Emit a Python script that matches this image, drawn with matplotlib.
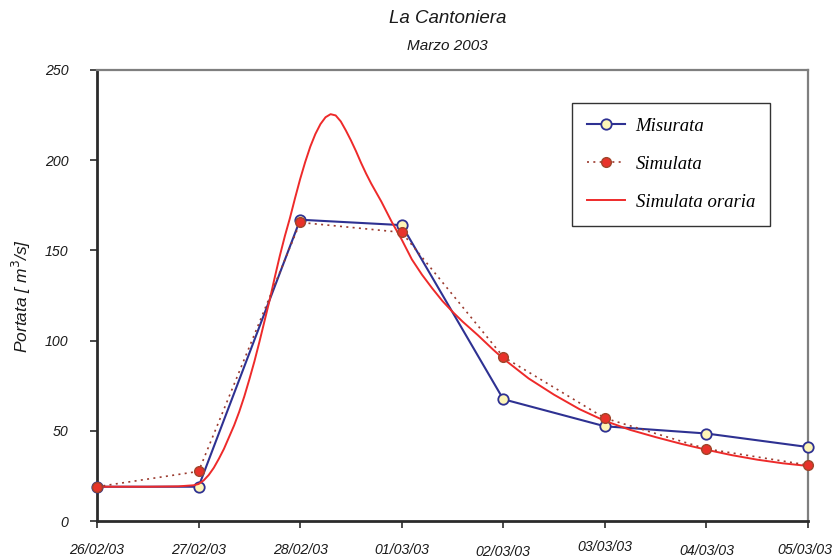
import matplotlib
matplotlib.use("Agg")
import matplotlib.pyplot as plt
import matplotlib.transforms as mtransforms

# Daily dates on the x axis
date_labels = ["26/02/03", "27/02/03", "28/02/03", "01/03/03",
               "02/03/03", "03/03/03", "04/03/03", "05/03/03"]
days = [0, 1, 2, 3, 4, 5, 6, 7]

# Daily discharges [m3/s]
misurata = [19, 19, 167, 164, 67.5, 52.5, 48.5, 41]
simulata = [19, 27.5, 165.5, 160, 91, 57, 40, 31]

# Hourly simulated discharge (time in days from 26/02/03 00:00)
oraria_t = [0.0, 0.5, 0.8, 0.95, 1.0, 1.05, 1.1, 1.15, 1.2, 1.25, 1.3, 1.35,
            1.4, 1.45, 1.5, 1.55, 1.6, 1.65, 1.7, 1.75, 1.8, 1.85, 1.9, 1.95,
            2.0, 2.05, 2.1, 2.15, 2.2, 2.25, 2.3, 2.35, 2.4, 2.45, 2.5, 2.55,
            2.6, 2.65, 2.7, 2.75, 2.8, 2.85, 2.9, 2.95, 3.0, 3.05, 3.1, 3.2,
            3.3, 3.4, 3.5, 3.6, 3.75, 3.9, 4.0, 4.25, 4.5, 4.75, 5.0, 5.25,
            5.5, 5.75, 6.0, 6.25, 6.5, 6.75, 7.0]
oraria_q = [19, 19, 19.2, 19.8, 20.5, 22.5, 25.5, 29.5, 34.5, 40, 46.5, 53,
            60.5, 69, 78.5, 88.5, 99.5, 111, 122.5, 135, 147, 158, 168, 179,
            189.5, 199, 207.5, 214.5, 220, 223.8, 225.5, 224.8, 221.5, 216.5,
            211, 205, 198.5, 192.5, 187, 182, 177, 171.5, 166, 161, 156, 150.5,
            145, 136.5, 129, 122, 116, 110.5, 103, 95, 90, 79, 70, 62, 55.5,
            50.5, 46.5, 42.8, 39.5, 36.5, 34, 32, 30.5]

sans = ["Liberation Sans", "DejaVu Sans"]
serif = ["Liberation Serif", "DejaVu Serif"]

fig = plt.figure(figsize=(8.34, 5.58), dpi=100)
ax = fig.add_axes([0.1163, 0.0663, 0.8525, 0.8083])

ax.plot(days, misurata, color="#2e3192", lw=1.5, marker="o", ms=7.5,
        mfc="#fdf5b8", mec="#2e3192", mew=1.3, label="Misurata",
        zorder=3, clip_on=False)
ax.plot(oraria_t, oraria_q, color="#ee2a2a", lw=1.4, label="Simulata oraria",
        zorder=4, clip_on=False)
ax.plot(days, simulata, color="#9b3a2e", lw=1.2, ls=(0, (1.2, 2.6)),
        marker="o", ms=7, mfc="#e8322a", mec="#a0452a", mew=1.0,
        label="Simulata", zorder=5, clip_on=False)

ax.set_xlim(0, 7)
ax.set_ylim(0, 250)
ax.set_xticks(days)
ax.set_xticklabels(date_labels)
ax.set_yticks([0, 50, 100, 150, 200, 250])

for side in ["left", "bottom"]:
    ax.spines[side].set_color("#2b2b2b")
    ax.spines[side].set_linewidth(2.0)
for side in ["top", "right"]:
    ax.spines[side].set_color("#7f7f7f")
    ax.spines[side].set_linewidth(1.6)

ax.tick_params(axis="x", direction="out", length=5, width=1.2, color="#2b2b2b",
               pad=10.5)
ax.tick_params(axis="y", direction="out", length=5, width=1.2, color="#2b2b2b",
               pad=15.5)
for lab in ax.get_xticklabels() + ax.get_yticklabels():
    lab.set_fontfamily(sans)
    lab.set_fontstyle("italic")
    lab.set_fontsize(10.2)
    lab.set_color("#1a1a1a")

# small offsets of the date labels (points): (dx, dy)
shifts = [(0, 0), (0, 0), (0, 0), (0, 0), (0, -1.5), (0, 2), (0, -1), (-2.5, 0)]
for lab, (dx, dy) in zip(ax.get_xticklabels(), shifts):
    lab.set_transform(lab.get_transform() +
                      mtransforms.ScaledTranslation(dx / 72, dy / 72,
                                                    fig.dpi_scale_trans))

ax.set_ylabel("Portata [ m$^3$/s]", fontfamily=sans, fontstyle="italic",
              fontsize=12.5, color="#1a1a1a")
ax.yaxis.set_label_coords(-0.09, 0.5)

fig.text(0.537, 0.966, "La Cantoniera", ha="center", va="center",
         fontfamily=sans, fontstyle="italic", fontsize=13.5, color="#1a1a1a")
fig.text(0.537, 0.918, "Marzo 2003", ha="center", va="center",
         fontfamily=sans, fontstyle="italic", fontsize=11, color="#1a1a1a")

handles, labels = ax.get_legend_handles_labels()
order = [0, 2, 1]
leg = ax.legend([handles[i] for i in order], [labels[i] for i in order],
                loc="upper left", bbox_to_anchor=(0.668, 0.927),
                prop={"family": serif, "style": "italic", "size": 13.5},
                frameon=True, fancybox=False, edgecolor="#333333",
                framealpha=1, handlelength=2.05, handletextpad=0.55,
                labelspacing=1.1, borderpad=0.8, borderaxespad=0,
                numpoints=1)
leg.get_frame().set_linewidth(1.0)

plt.savefig("out.png", dpi=100)
